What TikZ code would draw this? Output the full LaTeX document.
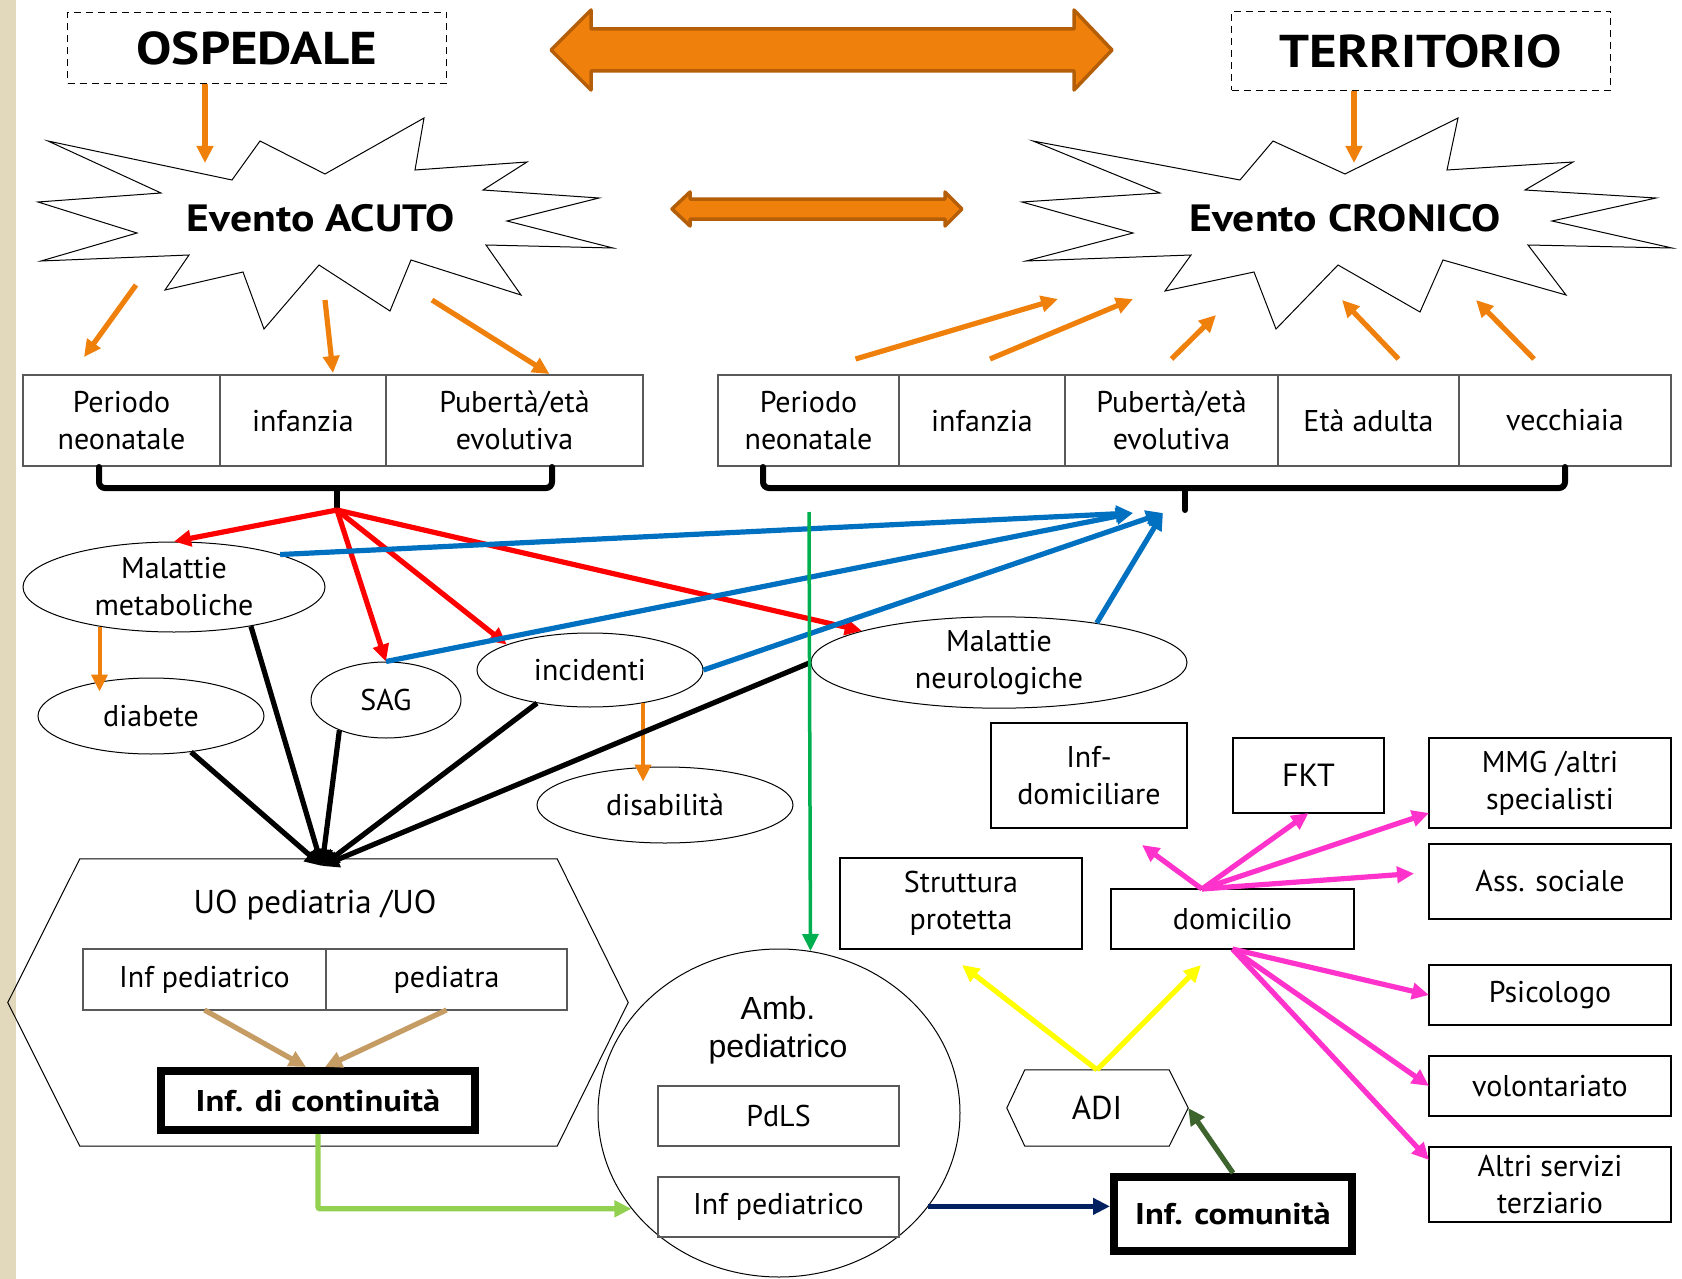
\documentclass[tikz,border=0pt]{standalone}
\usepackage{fontspec}
\setmainfont{PT Sans}
\newfontfamily\arialfont{Liberation Sans}
\newfontfamily\largo[FakeStretch=1.15]{PT Sans}
\usepackage{xcolor}
\usetikzlibrary{arrows.meta}
\usetikzlibrary{calc}
\usetikzlibrary{positioning}
\usetikzlibrary{shapes.geometric}
\definecolor{arancio}{RGB}{240,128,12}
\definecolor{arancioscuro}{RGB}{181,94,8}
\definecolor{blu}{RGB}{0,112,192}
\definecolor{verde}{RGB}{0,176,80}
\definecolor{verdechiaro}{RGB}{146,208,80}
\definecolor{verdescuro}{RGB}{62,100,45}
\definecolor{notte}{RGB}{0,32,96}
\definecolor{fucsia}{RGB}{255,51,204}
\definecolor{giallo}{RGB}{255,255,0}
\definecolor{sabbia}{RGB}{196,156,100}
\definecolor{beige}{RGB}{226,216,188}
\newcommand{\corpo}{\fontsize{30}{37}\selectfont}
\newcommand{\titololuogo}{\largo\fontsize{46}{52}\selectfont\bfseries}
\newcommand{\titoloevento}{\largo\fontsize{38}{44}\selectfont\bfseries}
\newcommand{\grassetto}{\largo\fontsize{30}{37}\selectfont\bfseries}
\tikzstyle{luogo} = [rectangle, draw=black, line width=1.5pt, dash pattern=on 7pt off 5pt, font=\titololuogo]
\tikzstyle{evento} = [font=\titoloevento]
\tikzstyle{stella} = [draw=black, line width=1pt, line join=miter]
\tikzstyle{frecciona} = [draw=arancioscuro, fill=arancio, line width=3.5pt, line join=round]
\tikzstyle{cella} = [rectangle, draw=black!65, line width=1.2pt, inner sep=2pt, outer sep=0pt, align=center, font=\corpo]
\tikzstyle{ovale} = [ellipse, draw=black, line width=1pt, inner sep=0pt, align=center, font=\corpo]
\tikzstyle{chiave} = [rectangle, draw=black, line width=8pt, outer sep=4pt, font=\grassetto]
\tikzstyle{graffa} = [draw=black, line width=6pt, rounded corners=6pt, line cap=round]
\tikzstyle{arrow} = [line width=5.2pt, -{Triangle[length=17pt,width=16pt]}]

\begin{document}
\begin{tikzpicture}[x=1pt,y=-1pt]
\fill[white] (0,0) rectangle (1682,1279);
\fill[beige] (0,0) rectangle (16,1279);
\useasboundingbox (0,0) rectangle (1682,1279);

% ospedale / territorio
\node (osp) [luogo, minimum width=379pt, minimum height=71pt] at (257,48) {OSPEDALE};
\node (ter) [luogo, minimum width=379pt, minimum height=79pt] at (1421,51) {TERRITORIO};

\draw [frecciona] (551,50) -- (591,10) -- (591,29) -- (1074,29) -- (1074,10) -- (1112,50)
  -- (1074,90) -- (1074,71) -- (591,71) -- (591,90) -- cycle;
\draw [frecciona] (672,209) -- (690,192) -- (690,199) -- (945,199) -- (945,192) -- (962,209)
  -- (945,226) -- (945,219) -- (690,219) -- (690,226) -- cycle;

% eventi
\draw [stella] (48,141) -- (232,180) -- (260,141) -- (325,174) -- (424,118) -- (415,170)
  -- (527,162) -- (483,190) -- (599,198) -- (507,221) -- (613,248) -- (486,245) -- (521,295)
  -- (411,260) -- (390,311) -- (319,265) -- (264,329) -- (243,272) -- (165,290) -- (189,255)
  -- (41,261) -- (137,233) -- (38,202) -- (161,193) -- cycle;
\draw [stella] (1033,141) -- (1240,180) -- (1273,141) -- (1345,174) -- (1458,118) -- (1447,170)
  -- (1573,162) -- (1525,190) -- (1656,198) -- (1552,221) -- (1672,248) -- (1528,245) -- (1566,295)
  -- (1443,260) -- (1420,312) -- (1338,265) -- (1276,329) -- (1254,272) -- (1165,291) -- (1191,255)
  -- (1026,261) -- (1133,233) -- (1022,202) -- (1160,193) -- cycle;
\node (acu) [evento] at (321,218) {Evento ACUTO};
\node (cro) [evento] at (1345,218) {Evento CRONICO};

% fasce di eta
\node (p1) [cella, minimum width=197pt, minimum height=91pt] at (121.5,420.5) {Periodo\\neonatale};
\node (p2) [cella, minimum width=166pt, minimum height=91pt, right=0pt of p1] {infanzia};
\node (p3) [cella, minimum width=257pt, minimum height=91pt, right=0pt of p2] {Pubertà/età\\evolutiva};

\node (q1) [cella, minimum width=181pt, minimum height=91pt] at (808.5,420.5) {Periodo\\neonatale};
\node (q2) [cella, minimum width=166pt, minimum height=91pt, right=0pt of q1] {infanzia};
\node (q3) [cella, minimum width=213pt, minimum height=91pt, right=0pt of q2] {Pubertà/età\\evolutiva};
\node (q4) [cella, minimum width=181pt, minimum height=91pt, right=0pt of q3] {Età adulta};
\node (q5) [cella, minimum width=212pt, minimum height=91pt, right=0pt of q4] {vecchiaia};

\draw [graffa] (99,467) -- (99,488) -- (552,488) -- (552,467);
\draw [graffa] (337,488) -- (337,508);
\draw [graffa] (763,467) -- (763,488) -- (1565,488) -- (1565,467);
\draw [graffa] (1185,488) -- (1185,510);

% patologie
\node (mm) [ovale, minimum width=302pt, minimum height=90pt] at (174,587) {Malattie\\metaboliche};
\node (dia) [ovale, minimum width=226pt, minimum height=76pt] at (151,716) {diabete};
\node (sag) [ovale, minimum width=150pt, minimum height=76pt] at (386,700) {SAG};
\node (inc) [ovale, minimum width=226pt, minimum height=74pt] at (590,670) {incidenti};
\node (dis) [ovale, minimum width=256pt, minimum height=76pt] at (665,805) {disabilità};
\node (neu) [ovale, minimum width=376pt, minimum height=91pt] at (999,662.5) {Malattie\\neurologiche};

% UO pediatria
\node (uo) [minimum width=477pt, minimum height=287pt, inner sep=0pt] at (318.5,1002.5) {};
\draw [stella] (uo.north west) -- (uo.north east) -- ($(uo.east)+(71,0)$) -- (uo.south east)
  -- (uo.south west) -- ($(uo.west)+(-72,0)$) -- cycle;
\node (uot) [font=\fontsize{33}{40}\selectfont] at (315,905) {UO pediatria /UO};
\node (ip) [cella, minimum width=243pt, minimum height=61pt] at (204.5,979.5) {Inf pediatrico};
\node (pe) [cella, minimum width=241pt, minimum height=61pt, right=0pt of ip] {pediatra};
\node (cont) [chiave, minimum width=314pt, minimum height=59pt] at (318,1100.5) {Inf. di continuità};

% ambulatorio
\node (amb) [ovale, minimum width=362pt, minimum height=328pt] at (779,1113) {};
\node (ambt) [font=\arialfont\fontsize{32}{38}\selectfont, align=center] at (778,1030) {Amb.\\pediatrico};
\node (pdls) [cella, minimum width=241pt, minimum height=60pt] at (778.5,1116) {PdLS};
\node (ipa) [cella, minimum width=241pt, minimum height=60pt, below=31pt of pdls] {Inf pediatrico};

% territorio
\node (str) [cella, draw=black, minimum width=242pt, minimum height=91pt] at (961,903.5) {Struttura\\protetta};
\node (dom) [cella, draw=black, minimum width=243pt, minimum height=60pt] at (1232.5,919) {domicilio};
\node (infd) [cella, draw=black, minimum width=196pt, minimum height=105pt] at (1089,775.5) {Inf-\\domiciliare};
\node (fkt) [cella, draw=black, minimum width=151pt, minimum height=75pt, font=\fontsize{32}{38}\selectfont] at (1308.5,775.5) {FKT};
\node (mmg) [cella, draw=black, minimum width=242pt, minimum height=90pt] at (1550,783) {MMG /altri\\specialisti};
\node (ass) [cella, draw=black, minimum width=242pt, minimum height=75pt, below=16pt of mmg] {Ass. sociale};
\node (psi) [cella, draw=black, minimum width=242pt, minimum height=60pt, below=46pt of ass] {Psicologo};
\node (vol) [cella, draw=black, minimum width=242pt, minimum height=60pt, below=31pt of psi] {volontariato};
\node (alt) [cella, draw=black, minimum width=242pt, minimum height=75pt, below=31pt of vol] {Altri servizi\\terziario};

\node (adi) [minimum width=144pt, minimum height=76pt, inner sep=0pt, font=\fontsize{33}{40}\selectfont] at (1097,1108) {ADI};
\coordinate (adiR) at ($(adi.east)+(19,0)$);
\draw [stella] (adi.north west) -- (adi.north east) -- (adiR) -- (adi.south east)
  -- (adi.south west) -- ($(adi.west)+(-18,0)$) -- cycle;
\node (com) [chiave, minimum width=238pt, minimum height=74pt] at (1233,1214) {Inf. comunità};

% punti di arrivo
\coordinate (acuN) at (205,163);
\coordinate (croN) at (1354,163);
\coordinate (a1) at (136,285);
\coordinate (a2) at (325,300);
\coordinate (a3) at (432,300);
\coordinate (c1) at (1058,299);
\coordinate (c2) at (1133,299);
\coordinate (c3) at (1216,315);
\coordinate (c4) at (1342,300);
\coordinate (c5) at (1476,300);
\coordinate (hubL) at (337,510);
\coordinate (blA) at (1133,513);
\coordinate (blB) at (1163,513);
\coordinate (gTop) at (809,512);
\coordinate (hubUO) at (322,866);
\coordinate (domT) at ($(dom.north west)+(91,0)$);

% frecce arancio
\draw [arrow, arancio] (osp.south -| acuN) -- (acuN);
\draw [arrow, arancio] (ter.south -| croN) -- (croN);
\draw [arrow, arancio] (a1) -- ($(p1.north west)+(61,-18)$);
\draw [arrow, arancio] (a2) -- ($(p2.north)+(30,-2)$);
\draw [arrow, arancio] (a3) -- ($(p3.north)+(35,-1)$);
\draw [arrow, arancio] ($(q1.north)+(47,-16)$) -- (c1);
\draw [arrow, arancio] ($(q2.north)+(8,-16)$) -- (c2);
\draw [arrow, arancio] ($(q3.north)+(0,-16)$) -- (c3);
\draw [arrow, arancio] ($(q4.north)+(30,-16)$) -- (c4);
\draw [arrow, arancio] ($(q5.north)+(-31,-16)$) -- (c5);
\draw [arrow, arancio, line width=4pt] (mm.-152.5) -- ($(mm.-152.5 |- dia.north)+(0,14)$);
\draw [arrow, arancio, line width=4pt] (inc.-32) -- ($(inc.-32 |- dis.north)+(0,15)$);

% frecce rosse
\draw [arrow, red] (hubL) -- (mm.north);
\draw [arrow, red] (hubL) -- (sag.north);
\draw [arrow, red] (hubL) -- (inc.163);
\draw [arrow, red] (hubL) -- (neu.167);

% frecce blu
\draw [arrow, blu] (mm.17) -- (blA);
\draw [arrow, blu] (sag.north) -- (blA);
\draw [arrow, blu] (inc.east) -- (blB);
\draw [arrow, blu] (neu.22) -- (blB);

% verso UO
\draw [arrow, black] (mm.-27) -- (hubUO);
\draw [arrow, black] (dia.-42.5) -- (hubUO);
\draw [arrow, black] (sag.-147) -- (hubUO);
\draw [arrow, black] (inc.-148) -- (hubUO);
\draw [arrow, black] (neu.west) -- (hubUO);

\draw [arrow, verde, line width=3.5pt] (gTop) -- (amb.79.5);

\draw [arrow, sabbia] (ip.south) -- ($(cont.north)+(-12,0)$);
\draw [arrow, sabbia] (pe.south) -- ($(cont.north)+(7,0)$);
\draw [arrow, verdechiaro, rounded corners=2pt] (cont.south) |- (amb.-147.6);
\draw [arrow, notte] (amb.-32.4) -- (amb.-32.4 -| com.west);
\draw [arrow, verdescuro] (com.north) -- (adiR);

\draw [arrow, giallo] (adi.north) -- ($(str.south)+(1,16)$);
\draw [arrow, giallo] (adi.north) -- ($(dom.south west)+(90,16)$);

% domicilio
\draw [arrow, fucsia] (domT) -- ($(infd.south)+(53,17)$);
\draw [arrow, fucsia] (domT) -- (fkt.south);
\draw [arrow, fucsia] (domT) -- ($(mmg.south west)+(0,-15)$);
\draw [arrow, fucsia] (domT) -- ($(ass.west)+(-15,-8)$);
\draw [arrow, fucsia] (dom.south) -- (psi.west);
\draw [arrow, fucsia] (dom.south) -- (vol.west);
\draw [arrow, fucsia] (dom.south) -- ($(alt.north west)+(0,13)$);
\end{tikzpicture}
\end{document}
